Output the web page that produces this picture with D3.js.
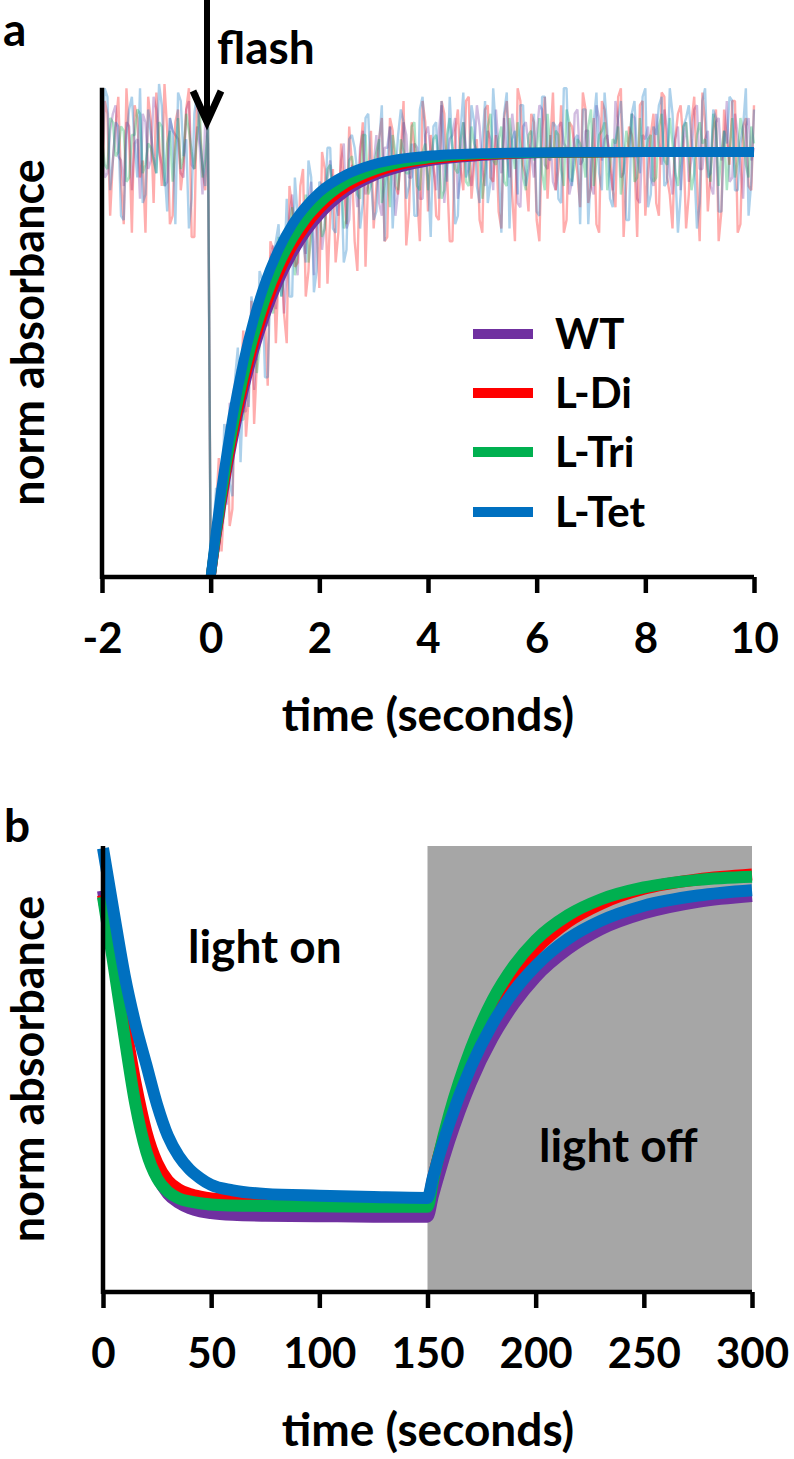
<!DOCTYPE html>
<html><head><meta charset="utf-8">
<script src="https://cdn.jsdelivr.net/npm/d3@7"></script>
<style>body{margin:0;background:#fff}svg{display:block}text{font-family:Lato,"Open Sans",sans-serif;font-weight:700;fill:#000}</style>
</head><body><svg id="c" width="794" height="1459"></svg>
<script>
// ---------- DATA ----------
const seriesNames = ["WT", "L-Di", "L-Tri", "L-Tet"];
const seriesColors = ["#7030A0", "#FF0000", "#00B050", "#0070C0"];

// Panel a: raw traces (% of plateau). Sweep 1 sampled every 0.1 s from -2 s;
// sweep 2 sampled every 0.1 s from -1.95 s.
const rawStart = -2, rawStart2 = -1.95, rawStep = 0.1;
const rawWT = [104,95,109,99,92,106,102,89,107,98,110,97,93,105,103,94,112,96,101,107,
 2,6,25,17,36,49,39,52,44,64,62,75,63,77,72,90,71,83,89,71,89,83,98,88,98,82,97,87,105,92,97,
 88,101,106,85,98,104,94,101,89,106,96,105,88,103,108,94,101,92,111,96,105,91,101,108,94,103,87,107,99,104,
 110,96,93,106,102,90,109,97,105,92,111,98,104,91,107,95,101,108,88,103,94,109,97,105,90,106,102,93,110,96,
 103,92,107,98,112,94,104,89,108,101];
const rawLDi = [87,109,98,113,83,103,111,94,81,107,114,92,105,85,110,97,115,80,106,91,
 3,16,6,36,16,42,58,42,36,66,61,79,55,78,55,87,74,96,72,87,68,96,85,74,102,83,97,72,107,95,82,
 103,79,108,92,100,78,107,90,112,86,99,84,109,79,105,96,112,89,103,81,111,93,86,108,102,79,112,94,109,84,
 105,89,114,96,81,107,101,87,110,92,83,112,103,91,113,80,106,98,111,85,104,88,114,94,82,109,102,90,113,79,
 107,95,110,86,103,112,81,106,92,111];
const rawLTri = [103,96,107,100,105,94,104,109,97,101,95,106,102,93,108,99,105,96,110,98,
 2,14,12,28,40,36,37,55,56,54,71,65,76,66,78,87,76,82,74,90,88,82,97,89,95,84,99,90,104,90,96,
 103,92,87,100,103,95,106,92,100,91,103,99,91,108,96,103,93,106,100,89,106,98,103,93,108,96,102,91,105,100,
 95,109,99,104,92,107,97,102,94,110,98,105,91,103,106,96,101,93,108,99,104,94,109,97,102,92,106,99,95,107,
 103,93,105,100,91,108,98,104,94,102];
const rawLTet = [93,113,98,106,84,110,102,115,90,104,95,111,86,105,114,99,82,109,103,92,
 1,21,13,33,19,54,45,40,61,72,47,70,79,66,89,66,85,79,98,67,93,87,101,81,95,77,104,95,88,109,84,
 102,79,106,95,110,89,102,85,113,94,106,89,100,113,83,105,94,111,92,102,88,115,97,109,82,105,111,92,102,86,
 113,99,107,89,115,94,103,83,110,96,114,91,105,87,108,101,84,112,95,115,90,104,113,93,109,81,106,111,97,88,
 115,95,108,86,102,112,91,106,85,110];
const rawWT2 = [94,105,111,98,107,91,103,109,96,113,100,92,108,104,95,110,97,106,90,102,
 8,6,28,41,32,44,39,60,55,66,59,78,72,62,85,76,85,76,93,86,77,94,92,85,102,84,95,101,90,94,
 104,85,101,98,91,107,94,102,89,104,100,91,111,97,104,89,107,95,100,106,92,103,110,95,99,109,88,106,102,94,
 111,97,104,91,107,101,93,110,98,105,90,108,103,96,112,94,100,109,89,104,106,92,102,110,95,103,91,107,99,111,
 96,105,90,108,101,93,109,97,106,98];
const rawLDi2 = [112,85,106,93,115,81,108,98,113,88,103,116,83,107,91,110,80,114,96,109,
 1,28,18,12,46,45,33,65,50,67,45,77,72,62,92,73,92,66,88,84,100,69,96,81,93,106,79,99,73,105,
 92,108,80,105,90,112,86,101,79,107,104,85,112,95,79,110,91,113,97,84,110,94,104,82,112,90,115,97,86,107,
 79,113,102,91,111,84,106,95,114,88,108,81,110,99,87,115,93,104,80,112,96,109,85,113,90,103,111,82,107,94,
 114,86,105,79,110,97,112,83,108,91];
const rawLTri2 = [97,108,99,106,93,104,110,95,102,98,107,92,105,101,96,109,100,104,94,106,
 2,19,15,32,44,37,49,59,48,65,65,62,80,72,82,71,84,90,80,87,80,96,88,94,82,98,95,89,104,92,
 100,88,97,104,91,100,95,107,91,102,97,104,89,104,101,95,107,92,102,99,95,109,97,106,92,102,107,94,104,98,
 108,91,101,105,96,110,93,103,99,106,92,104,107,97,102,90,105,109,94,101,103,93,106,98,108,95,99,107,91,104,
 102,96,109,92,105,100,94,108,97,106];
const rawLTet2 = [115,91,107,85,104,113,94,88,110,99,116,96,108,83,112,103,89,114,97,109,
 11,11,36,22,47,27,52,66,51,70,47,75,83,70,66,94,82,74,94,72,92,101,82,93,74,103,101,82,108,94,
 86,111,98,82,104,107,92,85,110,102,80,107,112,93,100,85,114,96,107,88,112,93,105,81,114,103,90,111,96,109,
 85,113,98,106,88,115,92,104,110,83,107,95,114,89,102,112,84,109,99,113,87,106,111,92,115,96,90,108,103,82,
 112,94,110,86,105,113,91,102,115,93];

// Panel a: fitted curves (% of plateau)
const fitTimes = [0,0.1,0.2,0.3,0.4,0.6,0.8,1.0,1.25,1.5,1.75,2,2.5,3,3.5,4,5,6,7,8,10];
const fitWT   = [0,9.1,17.3,24.9,31.7,43.5,53.3,61.4,69.6,76.0,81.1,85.1,90.8,94.3,96.4,97.8,99.1,99.7,99.9,100,100];
const fitLDi  = [0,9.5,18.1,25.9,33.0,45.1,55.1,63.2,71.3,77.7,82.6,86.5,91.8,95.0,97.0,98.2,99.3,99.75,99.9,100,100];
const fitLTri = [0,10.0,19.0,27.1,34.4,46.8,56.9,65.1,73.2,79.4,84.2,87.8,92.8,95.7,97.5,98.5,99.5,99.8,99.9,100,100];
const fitLTet = [0,11.1,21.0,29.7,37.5,50.6,61.0,69.2,77.0,82.9,87.2,90.5,94.7,97.1,98.4,99.1,99.7,99.9,100,100,100];
const ticksA = [-2,0,2,4,6,8,10];

// Panel b: light on (0-150 s) / light off (150-300 s)
const bTimes = [0,5,10,15,20,25,30,35,40,45,50,60,75,100,125,150,152.5,155,160,170,180,190,200,215,230,250,275,300];
const bWT   = [90,75,59,44,33,26,22,20,18.8,18.1,17.7,17.3,17.1,17.0,16.9,16.9,21.6,25.9,33.8,46.9,56.9,64.6,70.6,76.9,81.3,84.9,87.5,88.8];
const bLDi  = [89,75.5,61,47,36,29,25,23,22,21.4,21,20.7,20.5,20.4,20.3,20.3,25.4,30.2,38.8,52.6,63.1,70.9,76.8,83.0,87.0,90.4,92.5,93.6];
const bLTri = [88.6,73,57,42,31.5,25.5,22.5,21,20.3,19.9,19.6,19.4,19.3,19.2,19.1,19.1,24.9,30.2,39.7,54.5,65.4,73.2,78.9,84.5,88.0,90.7,92.4,93.1];
const bLTet = [99.5,85,71,60,51,42,35,30.5,27.5,25.5,24,22.8,22,21.6,21.3,21.1,25.7,30.0,37.7,50.4,60.1,67.5,73.1,79.2,83.2,86.6,88.9,90.1];
const ticksB = [0,50,100,150,200,250,300];
const darkStart = 150, darkEnd = 300;

// ---------- DRAW ----------
const svg = d3.select("#c");
svg.append("rect").attr("width",794).attr("height",1459).attr("fill","#fff");
const fmt = d => String(d);

// ===== Panel a =====
const xa = d3.scaleLinear().domain([-2,10]).range([102,754]);
const ya = d3.scaleLinear().domain([0,100]).range([577,152]);
const yaTop = 115.1;
const ga = svg.append("g");
const raw1 = [rawWT, rawLDi, rawLTri, rawLTet];
const raw2 = [rawWT2, rawLDi2, rawLTri2, rawLTet2];
const lineRaw = d3.line().x(d=>xa(d.t)).y(d=>ya(d.v));
raw1.forEach((arr,k)=>{
  const pts = arr.map((v,i)=>({t: rawStart + i*rawStep, v}))
    .concat(raw2[k].map((v,i)=>({t: rawStart2 + i*rawStep, v})))
    .sort((a,b)=>a.t-b.t);
  ga.append("path").attr("d", lineRaw(pts)).attr("fill","none")
    .attr("stroke", seriesColors[k]).attr("stroke-opacity",0.32).attr("stroke-width",2.4)
    .attr("stroke-linejoin","bevel");
});
const fits = [fitWT, fitLDi, fitLTri, fitLTet];
const lineFit = d3.line().x((d,i)=>xa(fitTimes[i])).y(d=>ya(d)).curve(d3.curveMonotoneX);
fits.forEach((arr,k)=>{
  ga.append("path").attr("d", lineFit(arr)).attr("fill","none")
    .attr("stroke", seriesColors[k]).attr("stroke-width",10);
});
// axes
const axA = ga.append("g").attr("transform",`translate(0,${ya(0)})`)
  .call(d3.axisBottom(xa).tickValues(ticksA).tickSize(16).tickPadding(30).tickFormat(fmt));
axA.select(".domain").remove();
ga.append("line").attr("x1",xa(-2)).attr("x2",xa(10)).attr("y1",ya(0)).attr("y2",ya(0)).attr("stroke","#000").attr("stroke-width",4.5);
ga.append("line").attr("x1",xa(-2)).attr("x2",xa(-2)).attr("y1",ya(yaTop)).attr("y2",ya(0)+2).attr("stroke","#000").attr("stroke-width",4.5);
axA.selectAll(".tick line").attr("stroke","#000").attr("stroke-width",4.5);
axA.selectAll(".tick text").style("font-size","42px").attr("font-family","Lato");
ga.append("text").attr("x",428).attr("y",731).attr("text-anchor","middle").style("font-size","46px").text("time (seconds)");
ga.append("text").attr("transform",`translate(44,${(ya(0)+ya(yaTop))/2}) rotate(-90)`).attr("text-anchor","middle").style("font-size","45px").text("norm absorbance");
ga.append("text").attr("x",3).attr("y",46).style("font-size","46px").text("a");
// flash arrow
ga.append("line").attr("x1",207).attr("x2",207).attr("y1",0).attr("y2",118).attr("stroke","#000").attr("stroke-width",6);
ga.append("path").attr("d","M193,91 L207,122 L221,91").attr("fill","none").attr("stroke","#000").attr("stroke-width",7);
ga.append("text").attr("x",217).attr("y",64).style("font-size","46px").text("flash");
// legend
const legY = [334, 393, 452, 512];
seriesNames.forEach((n,k)=>{
  ga.append("line").attr("x1",473).attr("x2",533).attr("y1",legY[k]).attr("y2",legY[k]).attr("stroke",seriesColors[k]).attr("stroke-width",10);
  ga.append("text").attr("x",555).attr("y",legY[k]+15).style("font-size","42px").text(n);
});

// ===== Panel b =====
const xb = d3.scaleLinear().domain([0,300]).range([103,752]);
const yb = d3.scaleLinear().domain([0,100]).range([1292,846]);
const gb = svg.append("g");
gb.append("rect").attr("x",xb(darkStart)).attr("y",yb(100)).attr("width",xb(darkEnd)-xb(darkStart)).attr("height",yb(0)-yb(100)).attr("fill","#A6A6A6");
gb.append("text").attr("x",188).attr("y",963).style("font-size","46px").text("light on");
gb.append("text").attr("x",539).attr("y",1162).style("font-size","46px").text("light off");
const bs = [bWT, bLDi, bLTri, bLTet];
const lineB = d3.line().x((d,i)=>xb(bTimes[i])).y(d=>yb(d)).curve(d3.curveMonotoneX);
bs.forEach((arr,k)=>{
  gb.append("path").attr("d", lineB(arr)).attr("fill","none")
    .attr("stroke", seriesColors[k]).attr("stroke-width",12);
});
const axB = gb.append("g").attr("transform",`translate(0,${yb(0)})`)
  .call(d3.axisBottom(xb).tickValues(ticksB).tickSize(16).tickPadding(30).tickFormat(fmt));
axB.select(".domain").remove();
gb.append("line").attr("x1",xb(0)).attr("x2",xb(300)).attr("y1",yb(0)).attr("y2",yb(0)).attr("stroke","#000").attr("stroke-width",4.5);
gb.append("line").attr("x1",xb(0)).attr("x2",xb(0)).attr("y1",yb(100)).attr("y2",yb(0)+2).attr("stroke","#000").attr("stroke-width",4.5);
axB.selectAll(".tick line").attr("stroke","#000").attr("stroke-width",4.5);
axB.selectAll(".tick text").style("font-size","42px").attr("font-family","Lato");
gb.append("text").attr("x",428).attr("y",1446).attr("text-anchor","middle").style("font-size","46px").text("time (seconds)");
gb.append("text").attr("transform",`translate(44,${(yb(0)+yb(100))/2}) rotate(-90)`).attr("text-anchor","middle").style("font-size","45px").text("norm absorbance");
gb.append("text").attr("x",4).attr("y",842).style("font-size","46px").text("b");
</script></body></html>
